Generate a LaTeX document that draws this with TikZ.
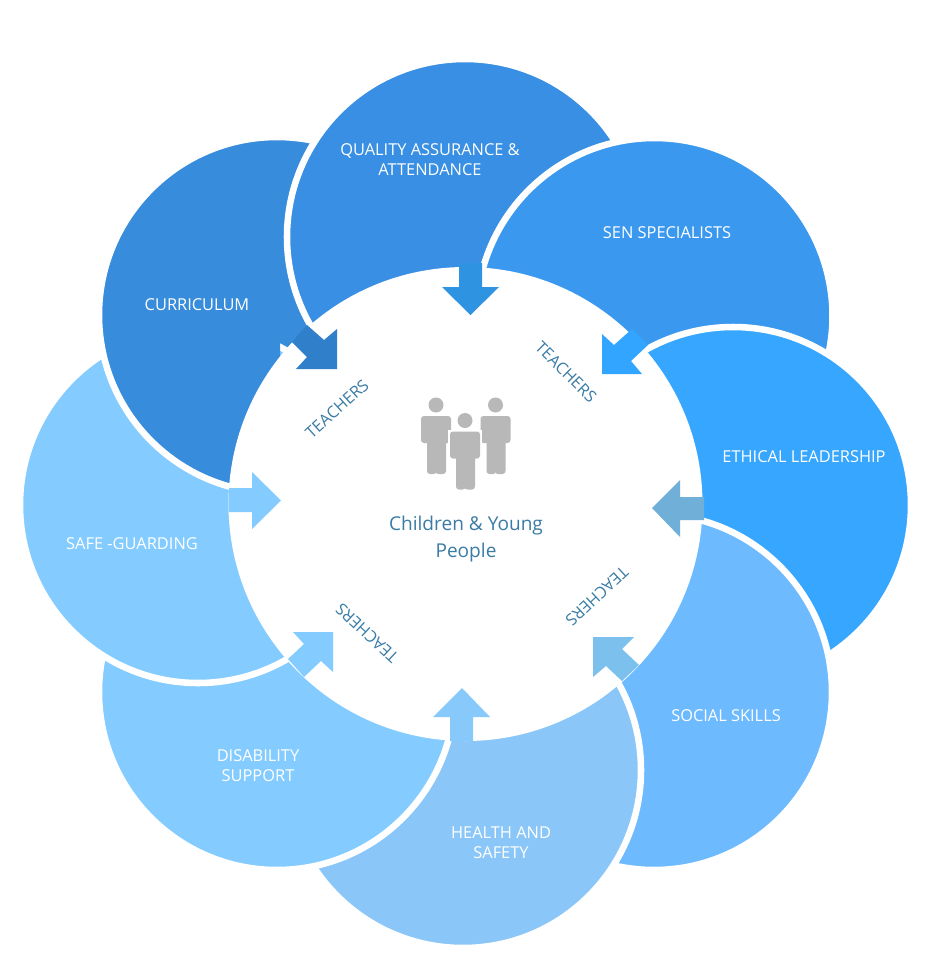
\documentclass[tikz,border=0pt]{standalone}
\usepackage{fontspec}
\setmainfont{Open Sans}
\definecolor{cCur}{HTML}{378CDC}
\definecolor{cQua}{HTML}{388FE3}
\definecolor{cSen}{HTML}{3A99EF}
\definecolor{cEth}{HTML}{36A6FF}
\definecolor{cSoc}{HTML}{6DBAFF}
\definecolor{cHea}{HTML}{8AC7F8}
\definecolor{cDis}{HTML}{84CCFF}
\definecolor{cSaf}{HTML}{84CCFF}
\definecolor{aTop}{HTML}{2E93E0}
\definecolor{aCur}{HTML}{2F7FCB}
\definecolor{aSen}{HTML}{31A5FF}
\definecolor{aEth}{HTML}{6FAFD8}
\definecolor{aSoc}{HTML}{7CC1EE}
\definecolor{aHea}{HTML}{88C9FB}
\definecolor{txtBlue}{HTML}{3A7CA5}
\definecolor{iconGrey}{HTML}{B8B8B8}
\tikzset{
  petal/.style={fill=#1,draw=white,line width=4.9pt},
  petaltext/.style={text=white,font=\fontsize{12.3}{15}\selectfont,align=center,inner sep=0pt},
  teachertext/.style={text=txtBlue,font=\fontsize{12.2}{15}\selectfont,inner sep=0pt},
  centertext/.style={text=txtBlue,font=\fontsize{14.3}{20.25}\selectfont,align=center,inner sep=0pt},
  person/.style={fill=iconGrey,rounded corners=2.2pt,draw=none},
}
\newcommand{\personicon}[2]{%
  \fill[iconGrey] (#1,#2-11) circle[radius=7.5];
  \fill[person] (#1-15,#2) rectangle (#1+15,#2+27);
  \fill[person] (#1-9,#2+20) rectangle (#1+0.6,#2+58);
  \fill[person] (#1-0.6,#2+20) rectangle (#1+10,#2+58);
}
\begin{document}
\begin{tikzpicture}[x=0.75pt,y=-0.75pt]
\useasboundingbox (0,0) rectangle (940,972);
\fill[white] (0,0) rectangle (940,972);
% petals, each over the one before
\path[petal=cCur] (277,315) circle[radius=178];
\path[petal=cQua] (465,237) circle[radius=178];
\path[petal=cSen] (654.5,316) circle[radius=178];
\path[petal=cEth] (733,505) circle[radius=178];
\path[petal=cSoc] (654,692) circle[radius=178];
\path[petal=cHea] (463,770) circle[radius=178];
\path[petal=cDis] (277,692) circle[radius=178];
\path[petal=cSaf] (198,505) circle[radius=178];
% Curriculum closes the ring: it lies over Safe-guarding
\begin{scope}
\clip (0,300) rectangle (280,600);
\path[petal=cCur] (277,315) circle[radius=178];
\end{scope}
% centre
\fill[white] (465.5,504) circle[radius=237];
% arrows
\fill[aTop] (459,263) -- (482,263) -- (482,287) -- (499,287) -- (470.5,315) -- (442,287) -- (459,287) -- cycle;
\fill[aCur] (307,325) -- (324,340) -- (337,329) -- (337,369) -- (296,369) -- (307,357) -- (292,342) -- cycle;
\fill[aSen] (632,329) -- (648,345) -- (631,361) -- (642,374) -- (602,374) -- (602,334) -- (614,345) -- cycle;
\fill[aEth] (704,497) -- (704,520) -- (680,520) -- (680,537) -- (652,508) -- (680,480) -- (680,497) -- cycle;
\fill[aSoc] (639,665) -- (622,681) -- (606,666) -- (593,677) -- (593,637) -- (634,637) -- (622,649) -- cycle;
\fill[aHea] (450,741) -- (473,741) -- (473,717) -- (490,717) -- (462,688) -- (433,717) -- (450,717) -- cycle;
\fill[cDis] (288,659) -- (304,644) -- (293,632) -- (333,632) -- (333,672) -- (321,661) -- (304,677) -- cycle;
\fill[cSaf] (229,488) -- (252,488) -- (252,472) -- (281,500.5) -- (252,529) -- (252,512) -- (229,512) -- cycle;
% people icon
\personicon{436}{416}
\personicon{495.5}{416}
\fill[white] (448,430) rectangle (482,462);
\personicon{465}{431.5}
% labels
\node[petaltext] (cur) at (197,305) {CURRICULUM};
\node[petaltext] (qua) at (430,160) {QUALITY ASSURANCE \&\\ATTENDANCE};
\node[petaltext] (sen) at (667,233) {SEN SPECIALISTS};
\node[petaltext] (eth) at (804,457) {ETHICAL LEADERSHIP};
\node[petaltext] (saf) at (132,544) {SAFE -GUARDING};
\node[petaltext] (dis) at (258,766) {DISABILITY\\SUPPORT};
\node[petaltext] (hea) at (501,843) {HEALTH AND\\SAFETY};
\node[petaltext] (soc) at (726,716) {SOCIAL SKILLS};
\node[teachertext,rotate=42] (t1) at (337,409) {TEACHERS};
\node[teachertext,rotate=-45] (t2) at (566,372) {TEACHERS};
\node[teachertext,rotate=137] (t3) at (367,633) {TEACHERS};
\node[teachertext,rotate=223] (t4) at (597,596) {TEACHERS};
\node[centertext] (ctr) at (466,539.5) {Children \& Young\\People};
\end{tikzpicture}
\end{document}
